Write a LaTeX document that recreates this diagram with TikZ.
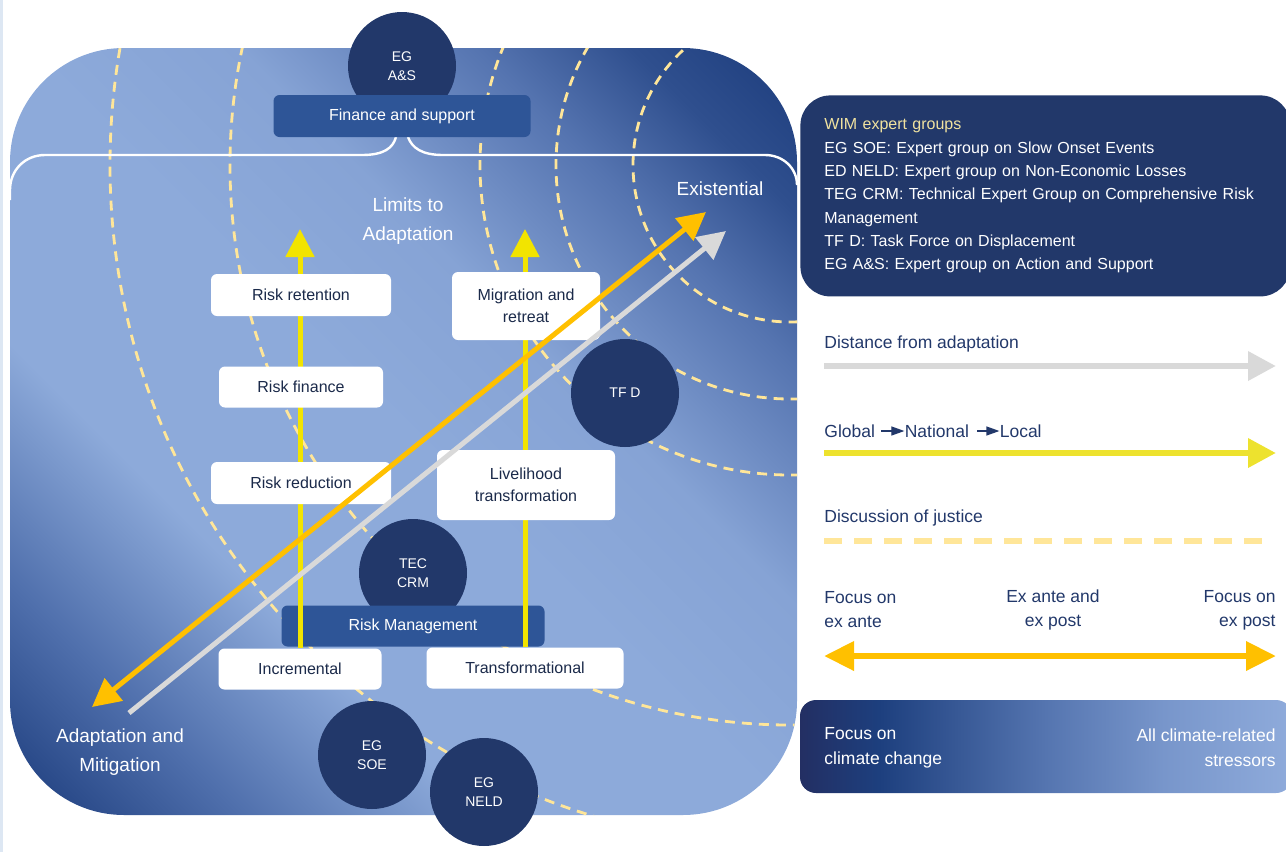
\documentclass[tikz,border=0pt]{standalone}
\usepackage{fontspec}
\setmainfont{Liberation Sans}
\usetikzlibrary{arrows.meta,positioning}

\definecolor{navy}{HTML}{22386A}
\definecolor{boxtxt}{HTML}{1B2A4A}
\definecolor{boxblue}{HTML}{2E5597}
\definecolor{ylw}{HTML}{F2E400}
\definecolor{lgdylw}{HTML}{EDE22E}
\definecolor{orng}{HTML}{FFC000}
\definecolor{gry}{HTML}{D9D9D9}
\definecolor{justice}{HTML}{FFE699}
\definecolor{wimtitle}{HTML}{F0E2A0}
\definecolor{edge}{HTML}{DDE7F3}
\definecolor{pnDark}{HTML}{1D3D7D}
\definecolor{pnMid}{HTML}{4F6FAC}
\definecolor{pnLite}{HTML}{8DAADA}
\definecolor{pnLiteB}{HTML}{86A3D5}
\definecolor{pnMidB}{HTML}{5574B0}
\definecolor{pnDeep}{HTML}{2F4F8E}
\definecolor{fbA}{HTML}{232F63}
\definecolor{fbB}{HTML}{1D3F7E}
\definecolor{fbC}{HTML}{5575B0}
\definecolor{fbD}{HTML}{7896CB}
\definecolor{fbE}{HTML}{8FABDB}

\pgfdeclareverticalshading{panelshade}{100bp}{color(0bp)=(pnDark); color(15bp)=(pnDark); color(25bp)=(pnMid); color(36bp)=(pnLite); color(50bp)=(pnLite); color(60bp)=(pnLiteB); color(71bp)=(pnMidB); color(78bp)=(pnDeep); color(85bp)=(pnDark); color(100bp)=(pnDark)}
\pgfdeclarehorizontalshading{focusshade}{100bp}{color(0bp)=(fbA); color(25bp)=(fbA); color(33bp)=(fbB); color(50bp)=(fbC); color(62bp)=(fbD); color(75bp)=(fbE); color(100bp)=(fbE)}

\begin{document}
\begin{tikzpicture}[x=0.5pt, y=-0.5pt,
  box/.style = {fill=white, rounded corners=3pt, text=boxtxt, align=center, inner sep=0pt, font=\fontsize{8}{11}\selectfont},
  bluebox/.style = {fill=boxblue, rounded corners=3pt, text=white, inner sep=0pt, font=\fontsize{8}{11}\selectfont},
  grp/.style = {circle, fill=navy, minimum size=54pt, inner sep=0pt, text=white, align=center, font=\fontsize{7}{9.5}\selectfont},
  paneltxt/.style = {text=white, align=center, inner sep=0pt, font=\fontsize{9.5}{14.5}\selectfont},
  lgd/.style = {text=navy, inner sep=0pt, font=\fontsize{8.75}{12}\selectfont},
  dashline/.style = {draw=justice, line width=1.4pt, dash pattern=on 5pt off 3.5pt},
  uparr/.style = {draw=ylw, line width=2.5pt, -{Triangle[length=14pt,width=14pt]}},
  orarr/.style = {draw=orng, line width=2.5pt, {Triangle[length=14pt,width=14pt]}-{Triangle[length=14pt,width=14pt]}},
  grarr/.style = {draw=gry, line width=2.5pt, -{Triangle[length=14pt,width=14pt]}},
  smallarr/.style = {draw=navy, line width=0.6pt, -{Triangle[length=6.5pt,width=4.5pt]}}
]
\useasboundingbox (0,0) rectangle (1286,852);
\fill[edge] (0,0) rectangle (3,852);

\shade[shading=panelshade, shading angle=-45, rounded corners=57pt] (10,48) rectangle (797,815);
\begin{scope}
\clip[rounded corners=57pt] (10,48) rectangle (797,815);
\foreach \r in {680,560,310,234,157}
  \draw[dashline] (790,165) circle[radius=\r];
\end{scope}

\draw[white, line width=1.2pt] (10,200) -- (10,190) .. controls (10,170) and (25,155) .. (45,155) -- (362,155) .. controls (384,155) and (393,148) .. (396,137);
\draw[white, line width=1.2pt] (408,137) .. controls (412,148) and (422,155) .. (443,155) -- (765,155) .. controls (783,155) and (797,168) .. (797,185);

\node[grp] (egas) at (402,66) {EG\\A\&S};
\node[grp] (teccrm) at (413,573) {TEC\\CRM};
\node[bluebox, minimum width=128.5pt, minimum height=21pt] (fin) at (402,116) {Finance and support};
\node[bluebox, minimum width=131.5pt, minimum height=20.5pt] (rm) at (413,626) {Risk Management};

\node[box, minimum width=81.5pt, minimum height=20.5pt] (incr) at (300,669) {Incremental};
\node[box, minimum width=98.5pt, minimum height=20.5pt] (trans) at (525,668) {Transformational};
\coordinate (limL) at (300,229);
\coordinate (limR) at (525,229);
\draw[uparr] (incr.north) -- (limL);
\draw[uparr] (trans.north) -- (limR);

\node[box, minimum width=90pt, minimum height=21pt] (rret) at (301,295) {Risk retention};
\node[box, minimum width=74pt, minimum height=34pt] (migr) at (526,306) {Migration and\\retreat};
\node[box, minimum width=82pt, minimum height=20.5pt] (rfin) at (301,387) {Risk finance};
\node[box, minimum width=90pt, minimum height=21pt] (rred) at (301,483) {Risk reduction};
\node[box, minimum width=89pt, minimum height=35pt] (live) at (526,485) {Livelihood\\transformation};

\coordinate (orgA) at (92,707);
\coordinate (orgB) at (706,212);
\coordinate (gryA) at (129,713);
\coordinate (gryB) at (726,231);
\draw[orarr] (orgA) -- (orgB);
\draw[grarr] (gryA) -- (gryB);

\node[grp] (tfd) at (625,393) {TF D};
\node[grp] (egsoe) at (372,755) {EG\\SOE};
\node[grp] (egneld) at (484,792) {EG\\NELD};

\node[paneltxt] (limits) at (408,221) {Limits to\\Adaptation};
\node[paneltxt] (exist) at (720,189) {Existential};
\node[paneltxt] (adapt) at (120,752) {Adaptation and\\Mitigation};

\node[fill=navy, rounded corners=15pt, anchor=north west, minimum width=245pt, minimum height=100.5pt, text width=221pt, inner xsep=12pt, inner ysep=0pt, align=left, text=white, font=\fontsize{8}{11.65}\selectfont] (wim) at (800,95) {\textcolor{wimtitle}{WIM expert groups}\\EG SOE: Expert group on Slow Onset Events\\ED NELD: Expert group on Non-Economic Losses\\TEG CRM: Technical Expert Group on Comprehensive Risk\\Management\\TF D: Task Force on Displacement\\EG A\&S: Expert group on Action and Support};

\node[lgd, anchor=west] (dist) at (824,344) {Distance from adaptation};
\coordinate (distA) at (824,366);
\coordinate (distB) at (1276,366);
\draw[draw=gry, line width=3.3pt, -{Triangle[length=14pt,width=14pt]}] (distA) -- (distB);

\node[lgd, anchor=west] (glob) at (824,431) {Global};
\node[lgd, right=14.5pt of glob] (natl) {National};
\node[lgd, right=15pt of natl] (locl) {Local};
\draw[smallarr] ([xshift=3pt]glob.east) -- (natl.west);
\draw[smallarr] ([xshift=4pt]natl.east) -- (locl.west);
\coordinate (scaleA) at (824,453);
\coordinate (scaleB) at (1276,453);
\draw[draw=lgdylw, line width=3.3pt, -{Triangle[length=14pt,width=14pt]}] (scaleA) -- (scaleB);

\node[lgd, anchor=west] (just) at (824,518) {Discussion of justice};
\coordinate (justA) at (824,541);
\coordinate (justB) at (1265,541);
\draw[draw=justice, line width=3pt, dash pattern=on 9pt off 6pt] (justA) -- (justB);

\node[lgd, anchor=west, align=left] (exante) at (824,610) {Focus on\\ex ante};
\node[lgd, align=center] (exboth) at (1053,610) {Ex ante and\\ex post};
\node[lgd, anchor=east, align=right] (expost) at (1276,610) {Focus on\\ex post};
\coordinate (focA) at (824,656);
\coordinate (focB) at (1276,656);
\draw[draw=orng, line width=3.3pt, {Triangle[length=15pt,width=14pt]}-{Triangle[length=15pt,width=14pt]}] (focA) -- (focB);

\shade[shading=focusshade, rounded corners=8pt] (800,700) rectangle (1292,793);
\node[lgd, text=white, anchor=west, align=left, font=\fontsize{8.75}{12.5}\selectfont] (cc) at (824,748) {Focus on\\climate change};
\node[lgd, text=white, anchor=east, align=right, font=\fontsize{8.75}{12.5}\selectfont] (allst) at (1276,748) {All climate-related\\stressors};

\end{tikzpicture}
\end{document}
